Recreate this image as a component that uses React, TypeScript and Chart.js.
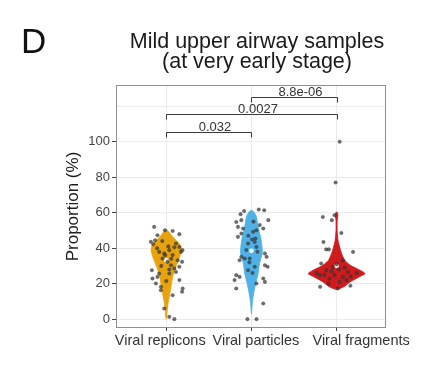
import React, { useEffect, useRef } from 'react';
import { Chart, registerables } from 'chart.js';

Chart.register(...registerables);

const FONT = '"Liberation Sans", Arial, Helvetica, sans-serif';

// ---------- data ----------
const categories = ['Viral replicons', 'Viral particles', 'Viral fragments'];
const groupColors = ['#E7A20D', '#4FB1E6', '#CF1B1D'];
const yTickValues = [0, 20, 40, 60, 80, 100, 120];
const panelLetter = 'D';
const titleLines = ['Mild upper airway samples', '(at very early stage)'];
const yTitle = 'Proportion (%)';

// individual samples (value %, horizontal jitter in category units)
const replicValues = [52, 50.1, 49.7, 47.9, 47.3, 43.6, 42.3, 44.5, 42.6, 40.7, 37.9, 37.9, 37, 38.9, 36.1, 34.2, 32.3, 33.2, 32.3, 30.4, 28.6, 29.5, 27.6, 25.7, 25.7, 26.6, 22.9, 23.8, 22, 20.1, 18.2, 17.3, 15.4, 16.3, 13.5, 6, 1.3, 0, 44, 41, 40, 40.5, 36, 34, 30, 28, 21.5, 38.9];
const replicJitter = [-0.142, -0.015, 0.075, 0.154, -0.103, -0.181, -0.154, -0.13, 0.115, 0.154, 0.174, -0.083, -0.024, 0.036, 0.075, -0.044, 0.015, 0.134, 0.186, 0.056, 0.095, 0.154, -0.169, -0.083, 0.036, 0.115, -0.162, -0.103, 0.154, -0.122, -0.063, 0.193, 0.186, -0.063, 0.075, -0.024, 0.036, 0.095, -0.047, 0.024, -0.107, 0.095, -0.012, 0.059, -0.059, 0.036, 0, 0.19];

const particValues = [61.8, 61.4, 61, 59.2, 55.8, 54.8, 55.8, 52, 51.1, 53, 51.1, 50.1, 48.3, 49.2, 46.4, 44.9, 43.5, 42.6, 40.7, 37, 35.1, 35.1, 33.2, 34.2, 34.2, 30.4, 29.5, 29.5, 27.6, 24.8, 23.8, 22, 22.9, 21, 20.1, 17.3, 8.8, 0, 0, 55, 47, 45.5, 39, 38, 32, 26];
const particJitter = [0.086, 0.15, -0.086, -0.127, 0.198, -0.178, -0.118, -0.158, -0.098, 0.098, 0.139, 0.059, -0.118, 0.02, -0.158, 0.008, 0.039, -0.039, 0.059, 0.158, 0.178, -0.118, -0.139, -0.079, -0.02, 0.158, 0.19, 0.039, -0.039, -0.178, -0.139, -0.198, 0.139, 0.158, 0.059, -0.178, 0.139, -0.047, 0.06, 0.024, -0.036, 0.047, -0.059, 0.071, -0.024, 0.012];

const fragValues = [77, 57.6, 55.8, 58.6, 48.6, 43.5, 39.3, 39.3, 37.9, 31.4, 33.2, 29.5, 28, 27.6, 26.6, 24.8, 24.8, 23.8, 22.9, 18.2, 18.8, 17.3, 100, 26, 26, 27, 29, 31, 25, 24, 21, 20, 22];
const fragJitter = [-0.012, -0.162, -0.056, -0.024, 0.056, -0.154, -0.122, -0.091, 0.193, -0.181, 0.075, -0.044, 0.027, -0.122, 0.134, -0.201, -0.024, 0.075, -0.083, -0.193, 0.162, 0.015, 0.036, -0.237, 0.237, -0.059, 0.095, 0, -0.142, 0.166, 0.036, -0.095, 0.118];

// violin outlines: levels (top to bottom) and half-widths in category units
const replicViolinY = [50.5, 49, 46.4, 41.7, 38.9, 35.1, 29.5, 23.8, 18.2, 12.6, 8.8, 5, 1.3, 0];
const replicViolinW = [0, 0.035, 0.075, 0.166, 0.178, 0.158, 0.113, 0.075, 0.056, 0.036, 0.021, 0.012, 0.006, 0];
const particViolinY = [61.5, 60, 57.6, 52, 46.4, 41, 37, 31.4, 25.7, 20.1, 15.4, 10.7, 7, 3];
const particViolinW = [0, 0.036, 0.059, 0.079, 0.107, 0.124, 0.127, 0.095, 0.079, 0.051, 0.03, 0.014, 0.007, 0];
const fragViolinY = [60.5, 59.5, 57, 55.8, 50, 44.5, 40.7, 37, 33.2, 30.4, 27.6, 25.7, 23.8, 21, 18.2, 16.7];
const fragViolinW = [0, 0.014, 0.012, 0.007, 0.007, 0.017, 0.036, 0.059, 0.095, 0.16, 0.275, 0.335, 0.265, 0.16, 0.085, 0];

const centreValues = [33.2, 38.5, 30];

// significance brackets
const brackFrom = [1, 1, 2];
const brackTo = [2, 3, 3];
const brackY = [105.5, 115.5, 125.3];
const brackLabel = ['0.032', '0.0027', '8.8e-06'];

// ---------- helpers ----------
const groupValues = [replicValues, particValues, fragValues];
const groupJitter = [replicJitter, particJitter, fragJitter];
const violinYs = [replicViolinY, particViolinY, fragViolinY];
const violinWs = [replicViolinW, particViolinW, fragViolinW];

function violinOutline(center: number, ys: number[], ws: number[]) {
  const right = ys.map((y, i) => ({ x: center + ws[i], y }));
  const left = ys
    .slice(0, -1)
    .map((y, i) => ({ x: center - ws[i], y }))
    .reverse();
  return [...right, ...left];
}

const xLabelShift = [-6, 4.5, 24.5];

const annotate = {
  id: 'annotate',
  afterDatasetsDraw(chart: any) {
    const { ctx, chartArea, scales } = chart;
    const xs = scales.x;
    const ys = scales.y;
    ctx.save();
    // panel border
    ctx.strokeStyle = '#8f8f8f';
    ctx.lineWidth = 1;
    ctx.strokeRect(
      Math.round(chartArea.left) + 0.5,
      Math.round(chartArea.top) + 0.5,
      Math.round(chartArea.right - chartArea.left) - 1,
      Math.round(chartArea.bottom - chartArea.top) - 1
    );
    // brackets
    ctx.strokeStyle = '#3a3a3a';
    ctx.fillStyle = '#333';
    ctx.font = `13px ${FONT}`;
    ctx.textAlign = 'center';
    ctx.textBaseline = 'alphabetic';
    brackY.forEach((v, i) => {
      const x1 = Math.round(xs.getPixelForValue(brackFrom[i])) + 0.5;
      const x2 = Math.round(xs.getPixelForValue(brackTo[i])) + 0.5;
      const y = Math.round(ys.getPixelForValue(v)) + 0.5;
      ctx.beginPath();
      ctx.moveTo(x1, y + 5);
      ctx.lineTo(x1, y);
      ctx.lineTo(x2, y);
      ctx.lineTo(x2, y + 5);
      ctx.stroke();
      ctx.fillText(brackLabel[i], (x1 + x2) / 2 + 6, y - 2);
    });
    ctx.restore();
  },
  afterDraw(chart: any) {
    const { ctx, scales } = chart;
    const xs = scales.x;
    ctx.save();
    // panel letter
    ctx.fillStyle = '#111';
    ctx.textAlign = 'left';
    ctx.textBaseline = 'alphabetic';
    ctx.font = `35px ${FONT}`;
    ctx.fillText(panelLetter, 13, 45);
    // title
    ctx.fillStyle = '#1a1a1a';
    ctx.textAlign = 'center';
    ctx.font = `21.5px ${FONT}`;
    ctx.fillText(titleLines[0], 249, 40);
    ctx.fillText(titleLines[1], 249, 60);
    // x labels
    ctx.fillStyle = '#333';
    ctx.font = `14.5px ${FONT}`;
    categories.forEach((c, i) => {
      ctx.fillText(c, xs.getPixelForValue(i + 1) + xLabelShift[i], 337);
    });
    ctx.restore();
  },
};

function buildConfig(): any {
  const pointSets = groupValues.map((vals, g) => ({
    type: 'scatter',
    label: categories[g],
    data: vals.map((v, i) => ({ x: g + 1 + groupJitter[g][i], y: v })),
    showLine: false,
    pointRadius: 1.8,
    pointBackgroundColor: 'rgba(60,60,60,0.75)',
    pointBorderColor: 'rgba(30,30,30,0.55)',
    pointBorderWidth: 0.4,
    order: 1,
  }));
  const violinSets = violinYs.map((yv, g) => ({
    type: 'scatter',
    label: categories[g] + ' density',
    data: violinOutline(g + 1, yv, violinWs[g]),
    showLine: true,
    fill: 'shape',
    tension: 0.2,
    backgroundColor: groupColors[g],
    borderColor: groupColors[g],
    borderWidth: 0.8,
    pointRadius: 0,
    order: 3,
  }));
  const centreSet = {
    type: 'scatter',
    label: 'centre',
    data: centreValues.map((v, g) => ({ x: g + 1, y: v })),
    pointRadius: 2.4,
    pointBackgroundColor: 'rgba(255,255,255,0.85)',
    pointBorderWidth: 0,
    order: 2,
  };

  return {
    type: 'scatter',
    data: { datasets: [...pointSets, centreSet, ...violinSets] },
    options: {
      responsive: false,
      animation: false,
      layout: { padding: { top: 77, right: 34, bottom: 0, left: 0 } },
      plugins: {
        legend: { display: false },
        tooltip: { enabled: false },
        title: { display: false },
      },
      scales: {
        x: {
          type: 'linear',
          min: 0.41,
          max: 3.58,
          afterBuildTicks: (s: any) => {
            s.ticks = [1, 2, 3].map((v) => ({ value: v }));
          },
          afterFit: (s: any) => {
            s.height = 29;
          },
          grid: { color: '#ebebeb', lineWidth: 1, drawTicks: true, tickLength: 3, tickColor: '#444' },
          border: { display: false },
          ticks: { display: false },
        },
        y: {
          type: 'linear',
          min: -5,
          max: 132,
          afterBuildTicks: (s: any) => {
            s.ticks = yTickValues.map((v) => ({ value: v }));
          },
          afterFit: (s: any) => {
            s.width = 108;
          },
          grid: {
            color: '#ebebeb',
            lineWidth: 1,
            drawTicks: true,
            tickLength: 4,
            tickColor: (c: any) => (c.tick && c.tick.value > 100 ? 'rgba(0,0,0,0)' : '#444'),
          },
          border: { display: false },
          ticks: {
            padding: 2,
            color: '#444',
            font: { size: 13, family: FONT },
            callback: (v: any) => (v > 100 ? '' : String(v)),
          },
          title: {
            display: true,
            text: yTitle,
            color: '#1a1a1a',
            font: { size: 17, family: FONT },
            padding: { top: 55, bottom: 0 },
          },
        },
      },
    },
    plugins: [annotate],
  };
}

export default function App() {
  const ref = useRef<HTMLCanvasElement>(null);
  useEffect(() => {
    if (!ref.current) return;
    const chart = new Chart(ref.current, buildConfig());
    return () => chart.destroy();
  }, []);
  return (
    <div style={{ width: 412, height: 349 }}>
      <canvas ref={ref} width={412} height={349} style={{ display: 'block' }} />
    </div>
  );
}
